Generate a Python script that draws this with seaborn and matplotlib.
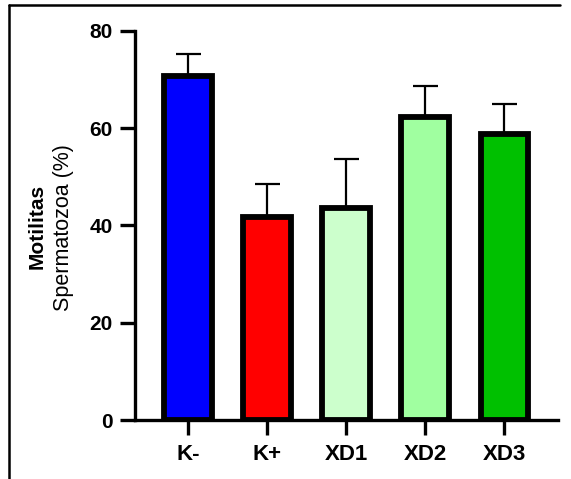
import matplotlib
matplotlib.use('Agg')
import matplotlib.pyplot as plt
import seaborn as sns
import numpy as np
from matplotlib.lines import Line2D

# data
groups = ['K-', 'K+', 'XD1', 'XD2', 'XD3']
motility = [70.8, 41.8, 43.6, 62.3, 58.8]
upper_err = [4.5, 6.7, 10.1, 6.4, 6.2]
colors = ['#0000FF', '#FF0000', '#CCFFCC', '#A0FFA0', '#00C000']
yticks = [0, 20, 40, 60, 80]

sns.set_style('ticks')
plt.rcParams['font.family'] = ['Liberation Sans', 'DejaVu Sans']
plt.rcParams['text.color'] = 'black'
plt.rcParams['xtick.color'] = 'black'
plt.rcParams['ytick.color'] = 'black'
plt.rcParams['axes.edgecolor'] = 'black'

fig = plt.figure(figsize=(5.71, 4.79), dpi=100)
ax = fig.add_axes([135 / 571, 59 / 479, 423 / 571, 389 / 479])

# error bars first so the bar outline sits on top
x = np.arange(len(groups))
ax.errorbar(x, motility, yerr=[np.zeros(len(groups)), upper_err], fmt='none',
            ecolor='black', elinewidth=1.6, capsize=9, capthick=1.6, zorder=1)

sns.barplot(x=groups, y=motility, hue=groups, palette=colors, legend=False,
            saturation=1, width=0.6, edgecolor='black', linewidth=4.2,
            errorbar=None, ax=ax, zorder=2)

ax.set_xlim(-0.67, 4.68)
ax.set_ylim(0, 80)
ax.set_yticks(yticks)
ax.set_ylabel('')
ax.set_xlabel('')

sns.despine(ax=ax)
for side in ['left', 'bottom']:
    ax.spines[side].set_linewidth(2.4)
ax.tick_params(axis='both', width=2.4, length=11, colors='black')
ax.tick_params(axis='x', pad=6, labelsize=16)
ax.tick_params(axis='y', pad=5, labelsize=15)
for lab in ax.get_xticklabels() + ax.get_yticklabels():
    lab.set_fontweight('bold')

# y label: first line bold, second regular
fig.text(37 / 571, 1 - 226 / 479, 'Motilitas', rotation=90, ha='center',
         va='center', fontsize=15, fontweight='bold')
fig.text(63 / 571, 1 - 228 / 479, 'Spermatozoa (%)', rotation=90, ha='center',
         va='center', fontsize=15.5)

# outer frame (left and top edges visible in the crop)
fig.add_artist(Line2D([9 / 571, 9 / 571], [-0.05, 1 - 5 / 479],
                      transform=fig.transFigure, color='black', lw=1.8))
fig.add_artist(Line2D([9 / 571, 560 / 571], [1 - 5 / 479, 1 - 5 / 479],
                      transform=fig.transFigure, color='black', lw=1.8))

fig.savefig('out.png', dpi=100)
